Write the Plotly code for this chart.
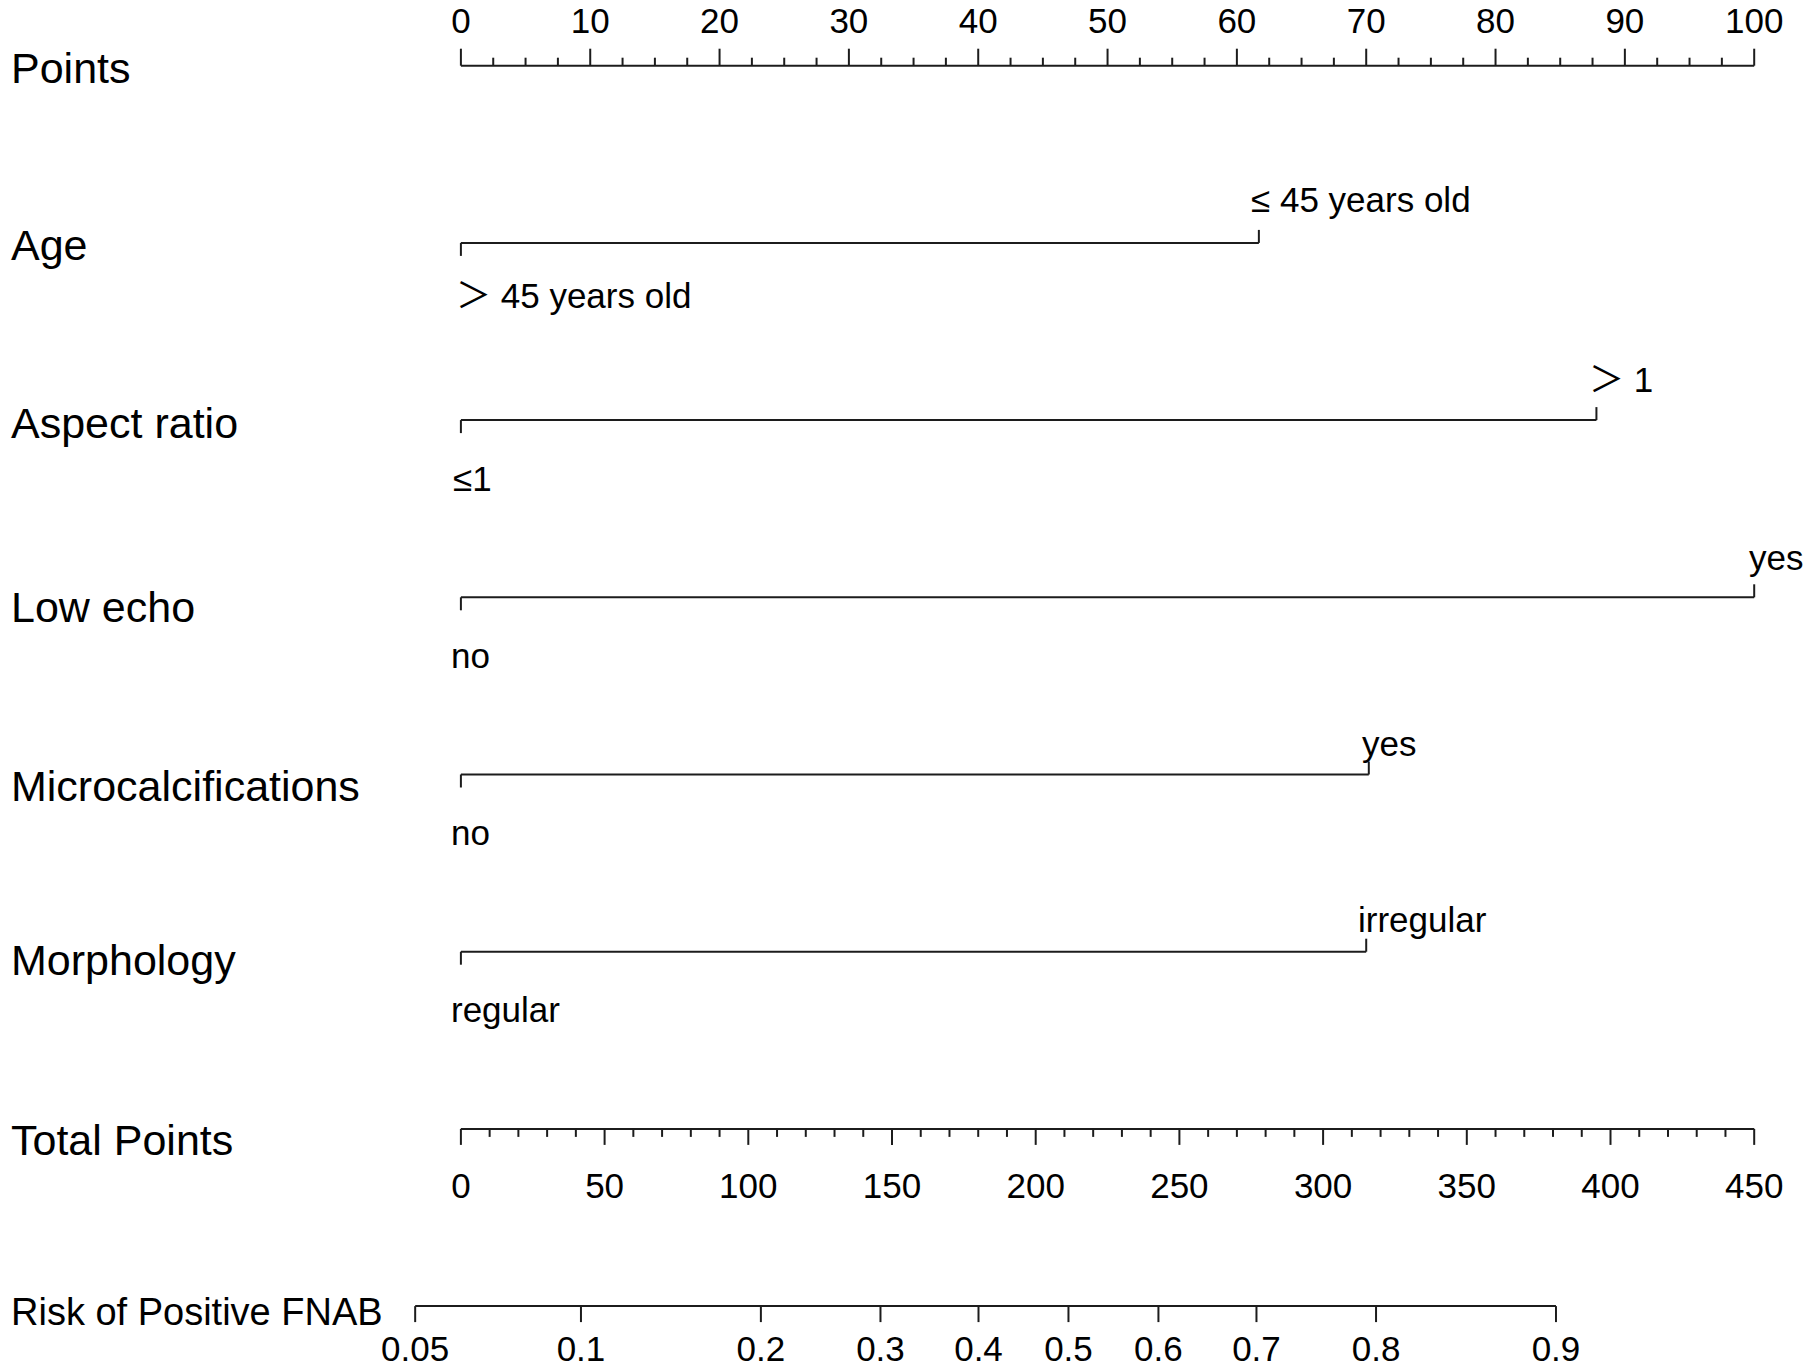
import numpy as np
import plotly.graph_objects as go

# values
row_names = ["Points", "Age", "Aspect ratio", "Low echo",
             "Microcalcifications", "Morphology", "Total Points",
             "Risk of Positive FNAB"]
low_levels = ["＞ 45 years old", "≤1", "no", "no", "regular"]
high_levels = ["≤ 45 years old", "＞ 1", "yes", "yes", "irregular"]
low_points = [0, 0, 0, 0, 0]
high_points = [61.7, 87.8, 100, 70.2, 70.0]

points_ticks = list(range(0, 101, 10))
total_ticks = list(range(0, 451, 50))
total_max = 450
risk_ticks = [0.05, 0.1, 0.2, 0.3, 0.4, 0.5, 0.6, 0.7, 0.8, 0.9]
risk_labels = ["0.05", "0.1", "0.2", "0.3", "0.4", "0.5", "0.6", "0.7", "0.8", "0.9"]
total_at_half_risk = 211.4   # total points where risk = 0.5
total_per_logit = 77.2       # total points per unit of log-odds

# layout (pixels, y grows downward)
W, H = 1805, 1370
x0_px, x100_px = 460.9, 1754.2
px_per_pt = (x100_px - x0_px) / 100
row_y = [65.7 + 177.2 * i for i in range(8)]
name_off = [2, 2, 3, 10, 11, 8, 11, 6]
above_off = [-43, -41, -40, -31, -32]
below_off = [53, 58, 58, 58, 58]
above_shift = [-10, -9, -7, -9, -10]
below_shift = [-7, -10, -12, -12, -12]
FONT = "Liberation Sans, Arial, Noto Sans CJK SC, sans-serif"
INK = "#1c1c1c"


def total_to_pts(t):
    return np.asarray(t, dtype=float) * 100.0 / total_max


def risk_to_pts(p):
    p = np.asarray(p, dtype=float)
    return total_to_pts(total_at_half_risk + total_per_logit * np.log(p / (1 - p)))


xs, ys = [], []


def seg(xa, ya, xb, yb):
    xs.extend([xa, xb, None])
    ys.extend([ya, yb, None])


# Points axis, ticks up
yp = row_y[0]
seg(0, yp, 100, yp)
for v in np.arange(0, 100.01, 2.5):
    seg(v, yp, v, yp - (17 if v % 10 == 0 else 8))

# variable rows
for i in range(5):
    y = row_y[i + 1]
    seg(low_points[i], y, high_points[i], y)
    seg(low_points[i], y, low_points[i], y + 13)
    seg(high_points[i], y, high_points[i], y - 13)

# Total Points axis, ticks down
yt = row_y[6]
seg(0, yt, total_to_pts(total_max), yt)
for v in range(0, total_max + 1, 10):
    seg(total_to_pts(v), yt, total_to_pts(v), yt + (16 if v % 50 == 0 else 8))

# risk axis
yr = row_y[7]
rp = risk_to_pts(risk_ticks)
seg(rp[0], yr, rp[-1], yr)
for v in rp:
    seg(v, yr, v, yr + 16)

fig = go.Figure()
fig.add_trace(go.Scatter(x=xs, y=ys, mode="lines",
                         line=dict(color=INK, width=2), hoverinfo="skip"))

tick_font = dict(family=FONT, size=35, color="black")
fig.add_trace(go.Scatter(x=points_ticks, y=[yp - 41] * len(points_ticks),
                         mode="text", text=[str(v) for v in points_ticks],
                         textfont=tick_font, textposition="middle center",
                         hoverinfo="skip"))
fig.add_trace(go.Scatter(x=total_to_pts(total_ticks), y=[yt + 60] * len(total_ticks),
                         mode="text", text=[str(v) for v in total_ticks],
                         textfont=tick_font, textposition="middle center",
                         hoverinfo="skip"))
fig.add_trace(go.Scatter(x=rp, y=[yr + 46] * len(rp),
                         mode="text", text=risk_labels,
                         textfont=tick_font, textposition="middle center",
                         hoverinfo="skip"))

# category labels
for i in range(5):
    y = row_y[i + 1]
    fig.add_annotation(x=high_points[i], y=y + above_off[i], text=high_levels[i],
                       xanchor="left", yanchor="middle", xshift=above_shift[i],
                       showarrow=False,
                       font=dict(family=FONT, size=35, color="black"))
    fig.add_annotation(x=low_points[i], y=y + below_off[i], text=low_levels[i],
                       xanchor="left", yanchor="middle", xshift=below_shift[i],
                       showarrow=False,
                       font=dict(family=FONT, size=35, color="black"))

# row names
for i, name in enumerate(row_names):
    size = 38 if i == 7 else 43
    fig.add_annotation(x=9 / W, xref="paper", y=row_y[i] + name_off[i],
                       text=name, xanchor="left", yanchor="middle", showarrow=False,
                       font=dict(family=FONT, size=size, color="black"))

fig.update_layout(
    width=W, height=H, margin=dict(l=0, r=0, t=0, b=0),
    paper_bgcolor="white", plot_bgcolor="white", showlegend=False,
    xaxis=dict(range=[-x0_px / px_per_pt, (W - x0_px) / px_per_pt],
               visible=False, fixedrange=True),
    yaxis=dict(range=[H, 0], visible=False, fixedrange=True),
)

fig.write_html("out.html", config={"displayModeBar": False},
               post_script="document.body.style.margin='0';")
